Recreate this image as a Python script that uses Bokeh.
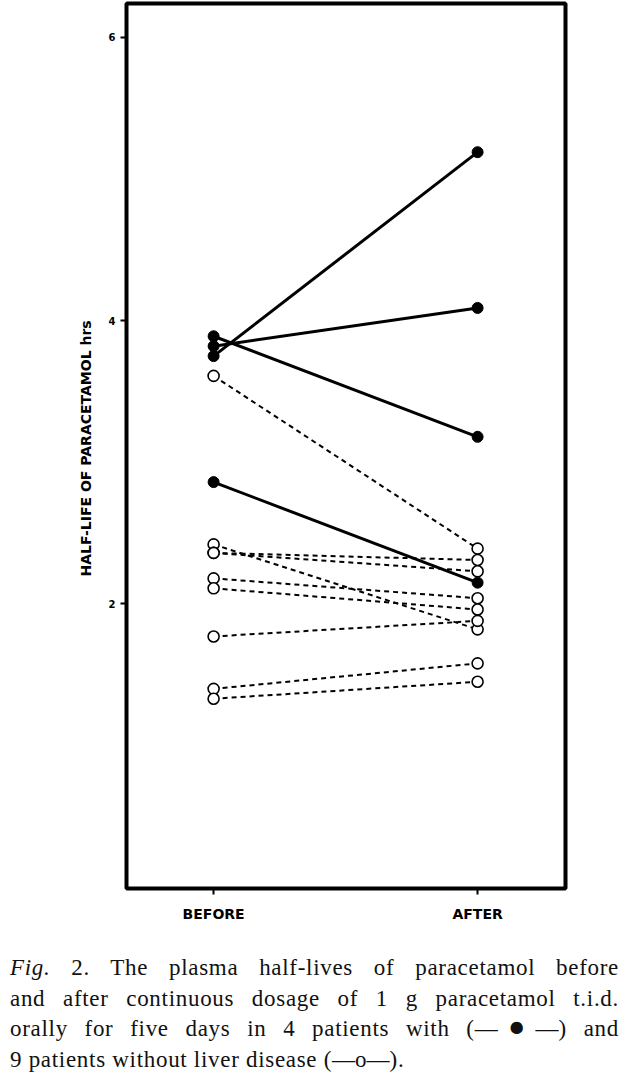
from bokeh.plotting import figure
from bokeh.models import FixedTicker, Range1d, Div, ColumnDataSource
from bokeh.layouts import column
from bokeh.embed import file_html
from bokeh.resources import INLINE

# ---- data (half-life of paracetamol, hours) ----
phases = ["BEFORE", "AFTER"]
y_ticks = [2, 4, 6]

# patients with liver disease (filled circles, solid lines)
liver_before = [3.75, 3.82, 3.89, 2.86]
liver_after = [5.19, 4.09, 3.18, 2.15]

# patients without liver disease (open circles, dashed lines)
normal_before = [3.61, 2.42, 2.36, 2.36, 2.18, 2.11, 1.77, 1.40, 1.33]
normal_after = [2.39, 1.82, 2.31, 2.23, 2.04, 1.96, 1.88, 1.58, 1.45]

xpos = list(range(len(phases)))
xb, xa = xpos[0], xpos[1]

p = figure(width=625, height=938,
           x_range=Range1d(-0.33, 1.333), y_range=Range1d(-0.01, 6.24),
           output_backend="svg", toolbar_location=None,
           min_border_left=126, min_border_right=60,
           min_border_top=3, min_border_bottom=50)

p.xgrid.visible = False
p.ygrid.visible = False
p.outline_line_color = "black"
p.outline_line_width = 4
p.background_fill_color = "white"
p.border_fill_color = "white"

for ax in (p.xaxis[0], p.yaxis[0]):
    ax.axis_line_color = None
    ax.major_tick_line_color = "black"
    ax.major_tick_line_width = 2
    ax.major_tick_out = 6
    ax.major_tick_in = 0
    ax.minor_tick_line_color = None
    ax.major_label_text_color = "black"
    ax.major_label_text_font = "DejaVu Sans"
    ax.major_label_text_font_style = "bold"

p.yaxis.ticker = FixedTicker(ticks=y_ticks)
p.yaxis.major_label_text_font_size = "10px"
p.yaxis.major_label_standoff = 5
p.yaxis.axis_label = "HALF-LIFE OF PARACETAMOL  hrs"
p.yaxis.axis_label_text_font = "DejaVu Sans"
p.yaxis.axis_label_text_font_style = "bold"
p.yaxis.axis_label_text_font_size = "14px"
p.yaxis.axis_label_text_color = "black"
p.yaxis.axis_label_standoff = 12

p.xaxis.ticker = FixedTicker(ticks=xpos)
p.xaxis.major_label_overrides = {i: s for i, s in enumerate(phases)}
p.xaxis.major_label_text_font_size = "14px"
p.xaxis.major_label_standoff = 11

n_src = ColumnDataSource(dict(x0=[xb] * len(normal_before), x1=[xa] * len(normal_after),
                              y0=normal_before, y1=normal_after))
l_src = ColumnDataSource(dict(x0=[xb] * len(liver_before), x1=[xa] * len(liver_after),
                              y0=liver_before, y1=liver_after))

p.segment(x0="x0", y0="y0", x1="x1", y1="y1", source=n_src,
          line_color="black", line_width=2, line_dash="5 4")
p.segment(x0="x0", y0="y0", x1="x1", y1="y1", source=l_src,
          line_color="black", line_width=3)

p.scatter(x="x0", y="y0", source=n_src, marker="circle", size=11,
          fill_color="white", line_color="black", line_width=1.6)
p.scatter(x="x1", y="y1", source=n_src, marker="circle", size=11,
          fill_color="white", line_color="black", line_width=1.6)
p.scatter(x="x0", y="y0", source=l_src, marker="circle", size=11,
          fill_color="black", line_color="black")
p.scatter(x="x1", y="y1", source=l_src, marker="circle", size=11,
          fill_color="black", line_color="black")

jl = "text-align:justify;text-align-last:justify;white-space:nowrap;"
caption = (
    '<div style="font-family:\'Liberation Serif\',serif;font-size:23px;line-height:30.5px;'
    'letter-spacing:0.7px;color:#111;width:614px;padding-left:5px;padding-top:10px;">'
    f'<div style="{jl}"><i>Fig.</i> 2. The plasma half-lives of paracetamol before</div>'
    f'<div style="{jl}">and after continuous dosage of 1 g paracetamol t.i.d.</div>'
    f'<div style="{jl}">orally for five days in 4 patients with '
    '(<span style="letter-spacing:0">\u2014<span style="font-size:1.25em;line-height:0">\u25cf</span>\u2014</span>) and</div>'
    '<div>9 patients without liver disease (<span style="letter-spacing:0">\u2014o\u2014</span>).</div>'
    '</div>'
)
div = Div(text=caption, width=625, height=144)

layout = column(p, div, spacing=0)
open("out.html", "w").write(file_html(layout, INLINE))
